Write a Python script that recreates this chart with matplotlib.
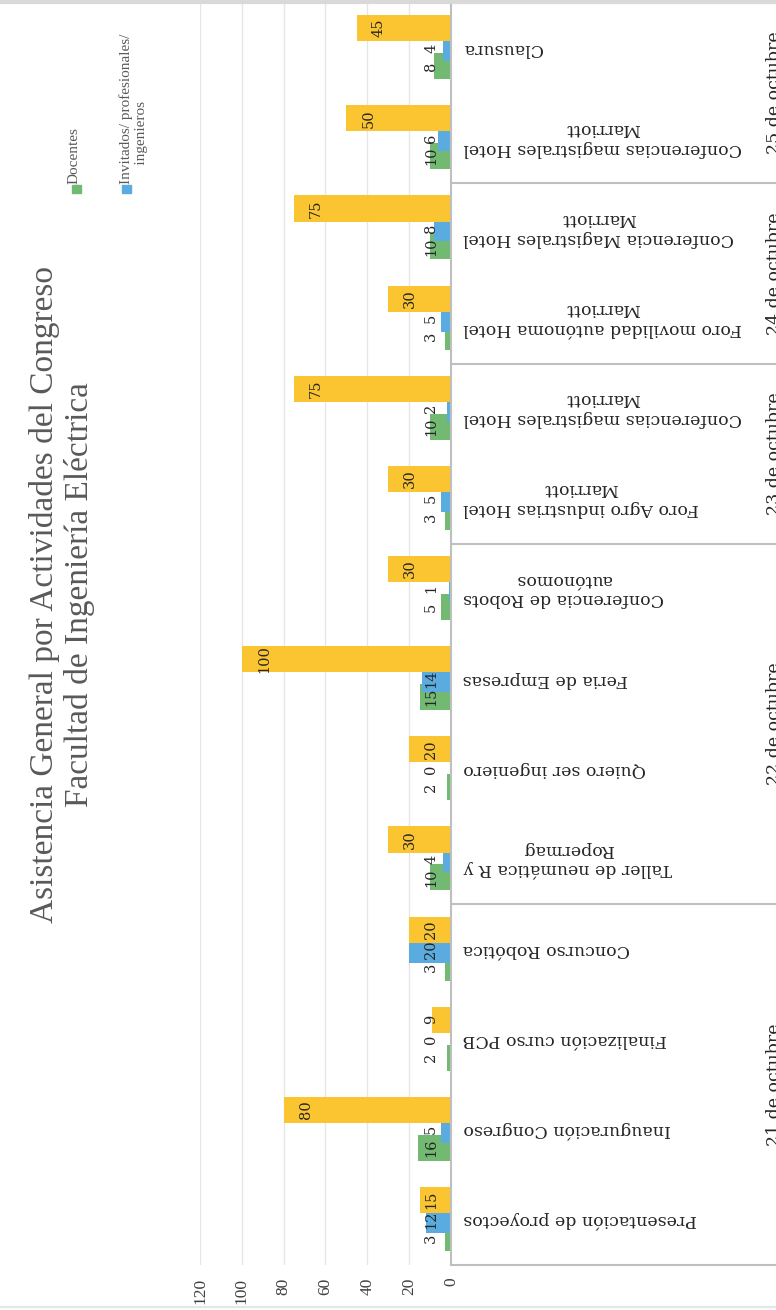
import matplotlib
matplotlib.use('Agg')
import matplotlib.pyplot as plt
from matplotlib.transforms import blended_transform_factory
from matplotlib.patches import Rectangle
from matplotlib.lines import Line2D
import numpy as np

W, H = 776, 1310   # tamaño en px

actividades = [
    'Presentación de proyectos',
    'Inauguración Congreso',
    'Finalización curso PCB',
    'Concurso Robótica',
    'Taller de neumática R y\nRopermag',
    'Quiero ser ingeniero',
    'Feria de Empresas',
    'Conferencia de Robots\nautónomos',
    'Foro Agro industrias Hotel\nMarriott',
    'Conferencias magistrales Hotel\nMarriott',
    'Foro movilidad autónoma Hotel\nMarriott',
    'Conferencia Magistrales Hotel\nMarriott',
    'Conferencias magistrales Hotel\nMarriott',
    'Clausura',
]
dias = ['21 de octubre', '22 de octubre', '23 de octubre', '24 de octubre', '25 de octubre']
actividades_por_dia = [4, 4, 2, 2, 2]

docentes    = [3, 16, 2, 3, 10, 2, 15, 5, 3, 10, 3, 10, 10, 8]
invitados   = [12, 5, 0, 20, 4, 0, 14, 1, 5, 2, 5, 8, 6, 4]
estudiantes = [15, 80, 9, 20, 30, 20, 100, 30, 30, 75, 30, 75, 50, 45]

ticks = [0, 20, 40, 60, 80, 100, 120]

C_DOC = '#72B972'
C_INV = '#5AABDF'
C_EST = '#FBC531'
GRID = '#E6E6E6'
AXC = '#BFBFBF'
SERIF = 'DejaVu Serif'
SERIF2 = 'Liberation Serif'


def fx(x):
    return x / W


def fy(y):
    return 1 - y / H


fig = plt.figure(figsize=(W / 100, H / 100), dpi=100)
fig.patch.set_facecolor('white')
ax = fig.add_axes([fx(200), fy(1265), (451 - 200) / W, (1265 - 3) / H])

y = np.arange(len(actividades))
bh = 0.29
series = [(docentes, -0.20, C_DOC), (invitados, 0.0, C_INV), (estudiantes, 0.22, C_EST)]
for vals, off, col in series:
    ax.barh(y + off, vals, height=bh, color=col, zorder=2)
    for yi, v in zip(y, vals):
        xl = max(v - 10.5, 9.5)
        ax.text(xl, yi + off, str(v), rotation=90, ha='center', va='center',
                fontsize=10.5, family=SERIF, color='#262626', zorder=3)

ax.set_xlim(120, 0)
ax.set_ylim(-0.5, len(actividades) - 0.5)
ax.set_xticks(ticks)
ax.set_xticklabels([str(t) for t in ticks], rotation=90, family=SERIF2,
                   fontsize=12.5, color='#404040')
ax.tick_params(axis='x', length=0, pad=9)
ax.set_yticks([])
ax.grid(axis='x', color=GRID, linewidth=1.0, zorder=0)
for sp in ['top', 'left', 'bottom']:
    ax.spines[sp].set_visible(False)
ax.spines['right'].set_color(AXC)
ax.spines['right'].set_linewidth(1.5)

# etiquetas de categoría (texto invertido)
trans = blended_transform_factory(fig.transFigure, ax.transData)
for yi, lab in zip(y, actividades):
    ax.text(fx(463), yi, lab, rotation=180, ha='left', va='center',
            multialignment='center', fontsize=12.5, family=SERIF,
            color='#262626', transform=trans, clip_on=False)

# cajas de días
bounds = np.concatenate([[0], np.cumsum(actividades_por_dia)]) - 0.5
for b in bounds:
    ax.add_line(Line2D([fx(451), 1.0], [b, b], transform=trans, color=AXC,
                       linewidth=1.5, clip_on=False))
for d, b0, b1 in zip(dias, bounds[:-1], bounds[1:]):
    ax.text(fx(766), (b0 + b1) / 2, d, rotation=90, ha='left', va='center',
            fontsize=12.5, family=SERIF, color='#262626', transform=trans,
            clip_on=False)

# título
fig.text(fx(62), fy(595),
         'Asistencia General por Actividades del Congreso\nFacultad de Ingeniería Eléctrica',
         rotation=90, ha='center', va='center', multialignment='center',
         fontsize=24, family=SERIF2, color='#595959')

# leyenda
fig.patches.append(Rectangle((fx(72), fy(193)), 9 / W, 8 / H, color=C_DOC,
                             transform=fig.transFigure, figure=fig))
fig.text(fx(74), fy(184), 'Docentes', rotation=90, ha='center', va='bottom',
         fontsize=11, family=SERIF2, color='#595959')
fig.patches.append(Rectangle((fx(122), fy(193)), 9 / W, 8 / H, color=C_INV,
                             transform=fig.transFigure, figure=fig))
fig.text(fx(134), fy(184), 'Invitados/ profesionales/\n     ingenieros', rotation=90,
         ha='center', va='bottom', multialignment='left',
         fontsize=11, family=SERIF2, color='#595959')

# bordes
fig.add_artist(Line2D([0, 1], [fy(1.5), fy(1.5)], transform=fig.transFigure,
                      color='#D9D9D9', linewidth=3))
fig.add_artist(Line2D([0, 1], [fy(1307), fy(1307)], transform=fig.transFigure,
                      color='#E6E6E6', linewidth=1.5))

fig.savefig('out.png', dpi=100, facecolor='white')
plt.close(fig)
